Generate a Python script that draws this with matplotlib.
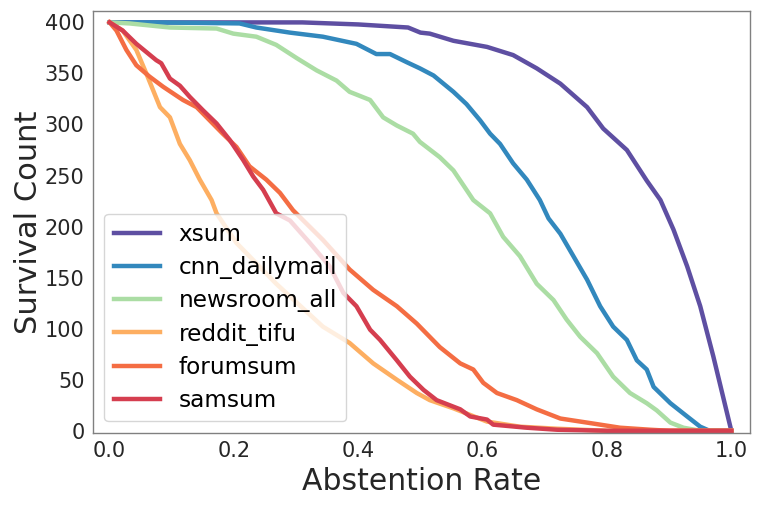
import numpy as np
import matplotlib
matplotlib.use("Agg")
import matplotlib.pyplot as plt

# series (abstention rate, survival count)
xsum_x = [0.0, 0.10, 0.20, 0.31, 0.40, 0.48, 0.50, 0.515, 0.553, 0.607, 0.649, 0.687, 0.725,
          0.768, 0.794, 0.832, 0.864, 0.886, 0.907, 0.929, 0.95, 0.971, 1.0]
xsum_y = [400, 400, 400, 400, 398, 395, 390, 389, 382, 376, 368, 355, 340,
          317, 296, 275, 245, 226, 197, 161, 122, 73, 0]

cnn_x = [0.0, 0.075, 0.209, 0.236, 0.29, 0.343, 0.397, 0.429, 0.451, 0.478, 0.499, 0.521,
         0.553, 0.574, 0.596, 0.612, 0.628, 0.649, 0.671, 0.692, 0.706, 0.725, 0.746, 0.768,
         0.789, 0.81, 0.832, 0.848, 0.864, 0.875, 0.902, 0.929, 0.95, 0.965, 1.0]
cnn_y = [400, 400, 399, 395, 390, 386, 379, 369, 369, 361, 355, 348,
         332, 320, 304, 291, 281, 262, 246, 226, 208, 193, 171, 148,
         122, 102, 89, 69, 60, 43, 27, 14, 4, 0, 0]

news_x = [0.0, 0.032, 0.097, 0.172, 0.199, 0.236, 0.268, 0.301, 0.333, 0.365, 0.386, 0.419,
          0.44, 0.462, 0.488, 0.499, 0.531, 0.553, 0.574, 0.585, 0.612, 0.633, 0.66, 0.687,
          0.714, 0.735, 0.757, 0.784, 0.81, 0.837, 0.864, 0.88, 0.902, 0.923, 0.95, 1.0]
news_y = [400, 399, 395, 394, 389, 386, 378, 365, 353, 343, 332, 324,
          307, 299, 291, 283, 268, 255, 236, 226, 213, 190, 171, 144,
          128, 109, 92, 76, 53, 37, 27, 20, 8, 3, 0, 0]

reddit_x = [0.0, 0.021, 0.043, 0.059, 0.081, 0.097, 0.113, 0.129, 0.145, 0.164, 0.172, 0.204,
            0.268, 0.343, 0.386, 0.424, 0.462, 0.494, 0.515, 0.553, 0.607, 0.66, 0.72, 0.8, 1.0]
reddit_y = [400, 392, 373, 350, 317, 307, 281, 265, 246, 226, 213, 184,
            144, 102, 86, 66, 50, 37, 30, 22, 9, 4, 2, 0, 0]

forum_x = [0.0, 0.011, 0.027, 0.043, 0.064, 0.086, 0.118, 0.14, 0.161, 0.182, 0.204, 0.225,
           0.252, 0.274, 0.295, 0.343, 0.386, 0.424, 0.462, 0.494, 0.531, 0.564, 0.585, 0.601,
           0.623, 0.655, 0.687, 0.725, 0.768, 0.821, 0.87, 0.9, 1.0]
forum_y = [400, 392, 373, 358, 347, 337, 324, 317, 304, 291, 278, 259,
           246, 233, 216, 187, 158, 138, 122, 105, 82, 66, 60, 47,
           37, 30, 21, 12, 8, 3, 1, 0, 0]

sam_x = [0.0, 0.021, 0.043, 0.059, 0.075, 0.083, 0.097, 0.113, 0.129, 0.15, 0.172, 0.193,
         0.215, 0.231, 0.247, 0.268, 0.29, 0.322, 0.354, 0.376, 0.397, 0.419, 0.435, 0.462,
         0.483, 0.505, 0.526, 0.564, 0.58, 0.607, 0.617, 0.671, 0.72, 0.8, 1.0]
sam_y = [400, 392, 379, 371, 363, 360, 345, 338, 327, 314, 301, 285,
         265, 249, 236, 213, 206, 184, 161, 135, 122, 99, 89, 69,
         53, 40, 30, 21, 14, 11, 6, 3, 1, 0, 0]

names = ["xsum", "cnn_dailymail", "newsroom_all", "reddit_tifu", "forumsum", "samsum"]
colors = ["#5e4fa2", "#3288bd", "#abdda4", "#fdae61", "#f46d43", "#d53e4f"]
series = [(xsum_x, xsum_y), (cnn_x, cnn_y), (news_x, news_y),
          (reddit_x, reddit_y), (forum_x, forum_y), (sam_x, sam_y)]

fig = plt.figure(figsize=(7.61, 5.08), dpi=100)
ax = fig.add_axes([0.122, 0.148, 0.8635, 0.83])

for (xs, ys), name, c in zip(series, names, colors):
    ax.plot(xs, ys, color=c, lw=3.2, label=name)

ax.set_xlim(-0.027, 1.03)
ax.set_ylim(-2, 411)
ax.set_xticks(np.arange(0, 1.01, 0.2))
ax.set_yticks(np.arange(0, 401, 50))
ax.tick_params(length=0, labelsize=15, labelcolor="#262626", pad=6)
for s in ax.spines.values():
    s.set_color("#808080")
    s.set_linewidth(1.0)

ax.set_xlabel("Abstention Rate", fontsize=21.5, color="#262626")
ax.set_ylabel("Survival Count", fontsize=22, color="#262626", labelpad=1)

ax.legend(loc="lower left", fontsize=16.7, labelspacing=0.44)

fig.savefig("out.png", dpi=100)
